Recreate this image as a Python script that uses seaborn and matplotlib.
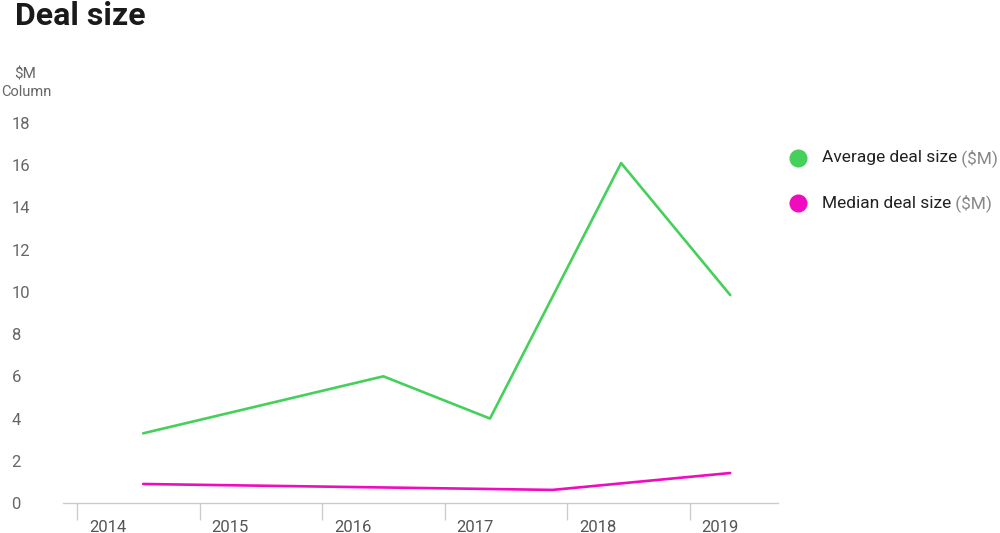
import numpy as np
import pandas as pd
import matplotlib
matplotlib.use("Agg")
import matplotlib.pyplot as plt
import seaborn as sns

# data (x in decimal years, values in $M)
avg_years = [2014.54, 2016.50, 2017.37, 2018.44, 2019.33]
avg_values = [3.3, 6.0, 4.0, 16.1, 9.85]
med_years = [2014.54, 2017.88, 2019.33]
med_values = [0.9, 0.62, 1.42]
year_labels = [2014, 2015, 2016, 2017, 2018, 2019]
y_ticks = [0, 2, 4, 6, 8, 10, 12, 14, 16, 18]

green = "#44d05a"
magenta = "#f00bbf"
grey = "#666666"

sns.set_theme(style="white")
plt.rcParams["font.family"] = ["Roboto", "DejaVu Sans"]

fig = plt.figure(figsize=(10, 5.33), dpi=100)
ax = fig.add_axes([0.063, 0.0563, 0.715, 0.713])

sns.lineplot(x=avg_years, y=avg_values, color=green, linewidth=1.9, ax=ax)
sns.lineplot(x=med_years, y=med_values, color=magenta, linewidth=1.9, ax=ax)

ax.set_xlim(2013.886, 2019.72)
ax.set_ylim(0, 18)
sns.despine(ax=ax, left=True)
ax.spines["bottom"].set_color("#cccccc")
ax.spines["bottom"].set_linewidth(1)

# year boundaries as long tick marks, labels placed a bit to the right
ax.set_xticks(year_labels)
ax.set_xticklabels([])
ax.tick_params(axis="x", which="major", bottom=True, length=12.5, width=1,
               color="#cccccc", direction="out")
ax.set_xticks([y + 0.25 for y in year_labels], minor=True)
ax.set_xticklabels([str(y) for y in year_labels], minor=True)
ax.tick_params(axis="x", which="minor", bottom=True, length=0, pad=12,
               labelsize=12, labelcolor="#555555")

ax.set_yticks(y_ticks)
ax.set_yticklabels([str(v) for v in y_ticks])
ax.tick_params(axis="y", length=0, pad=0, labelsize=12, labelcolor=grey)
for lab in ax.get_yticklabels():
    lab.set_horizontalalignment("left")
    lab.set_x(-0.072)
ax.set_xlabel("")
ax.set_ylabel("")

fig.text(0.015, 0.953, "Deal size", fontsize=23, fontweight="bold", color="#1a1a1a", va="baseline")
fig.text(0.025, 0.852, "$M", fontsize=11, color=grey, ha="center", va="baseline")
fig.text(0.026, 0.82, "Column", fontsize=10.5, color=grey, ha="center", va="baseline")

# legend
legend_items = [("Average deal size", green, 158), ("Median deal size", magenta, 203)]
for label, col, ypix in legend_items:
    yf = 1 - ypix / 533
    fig.add_artist(plt.Line2D([0.798], [yf], marker="o", markersize=13, color=col,
                              markeredgewidth=0, transform=fig.transFigure))
    t = fig.text(0.822, yf, label, fontsize=12.5, color="#222222", va="center")
    ax.annotate(" ($M)", xy=(1, 0.5), xycoords=t, va="center", ha="left",
                fontsize=12.5, color="#888888", annotation_clip=False)

fig.savefig("out.png", dpi=100)
